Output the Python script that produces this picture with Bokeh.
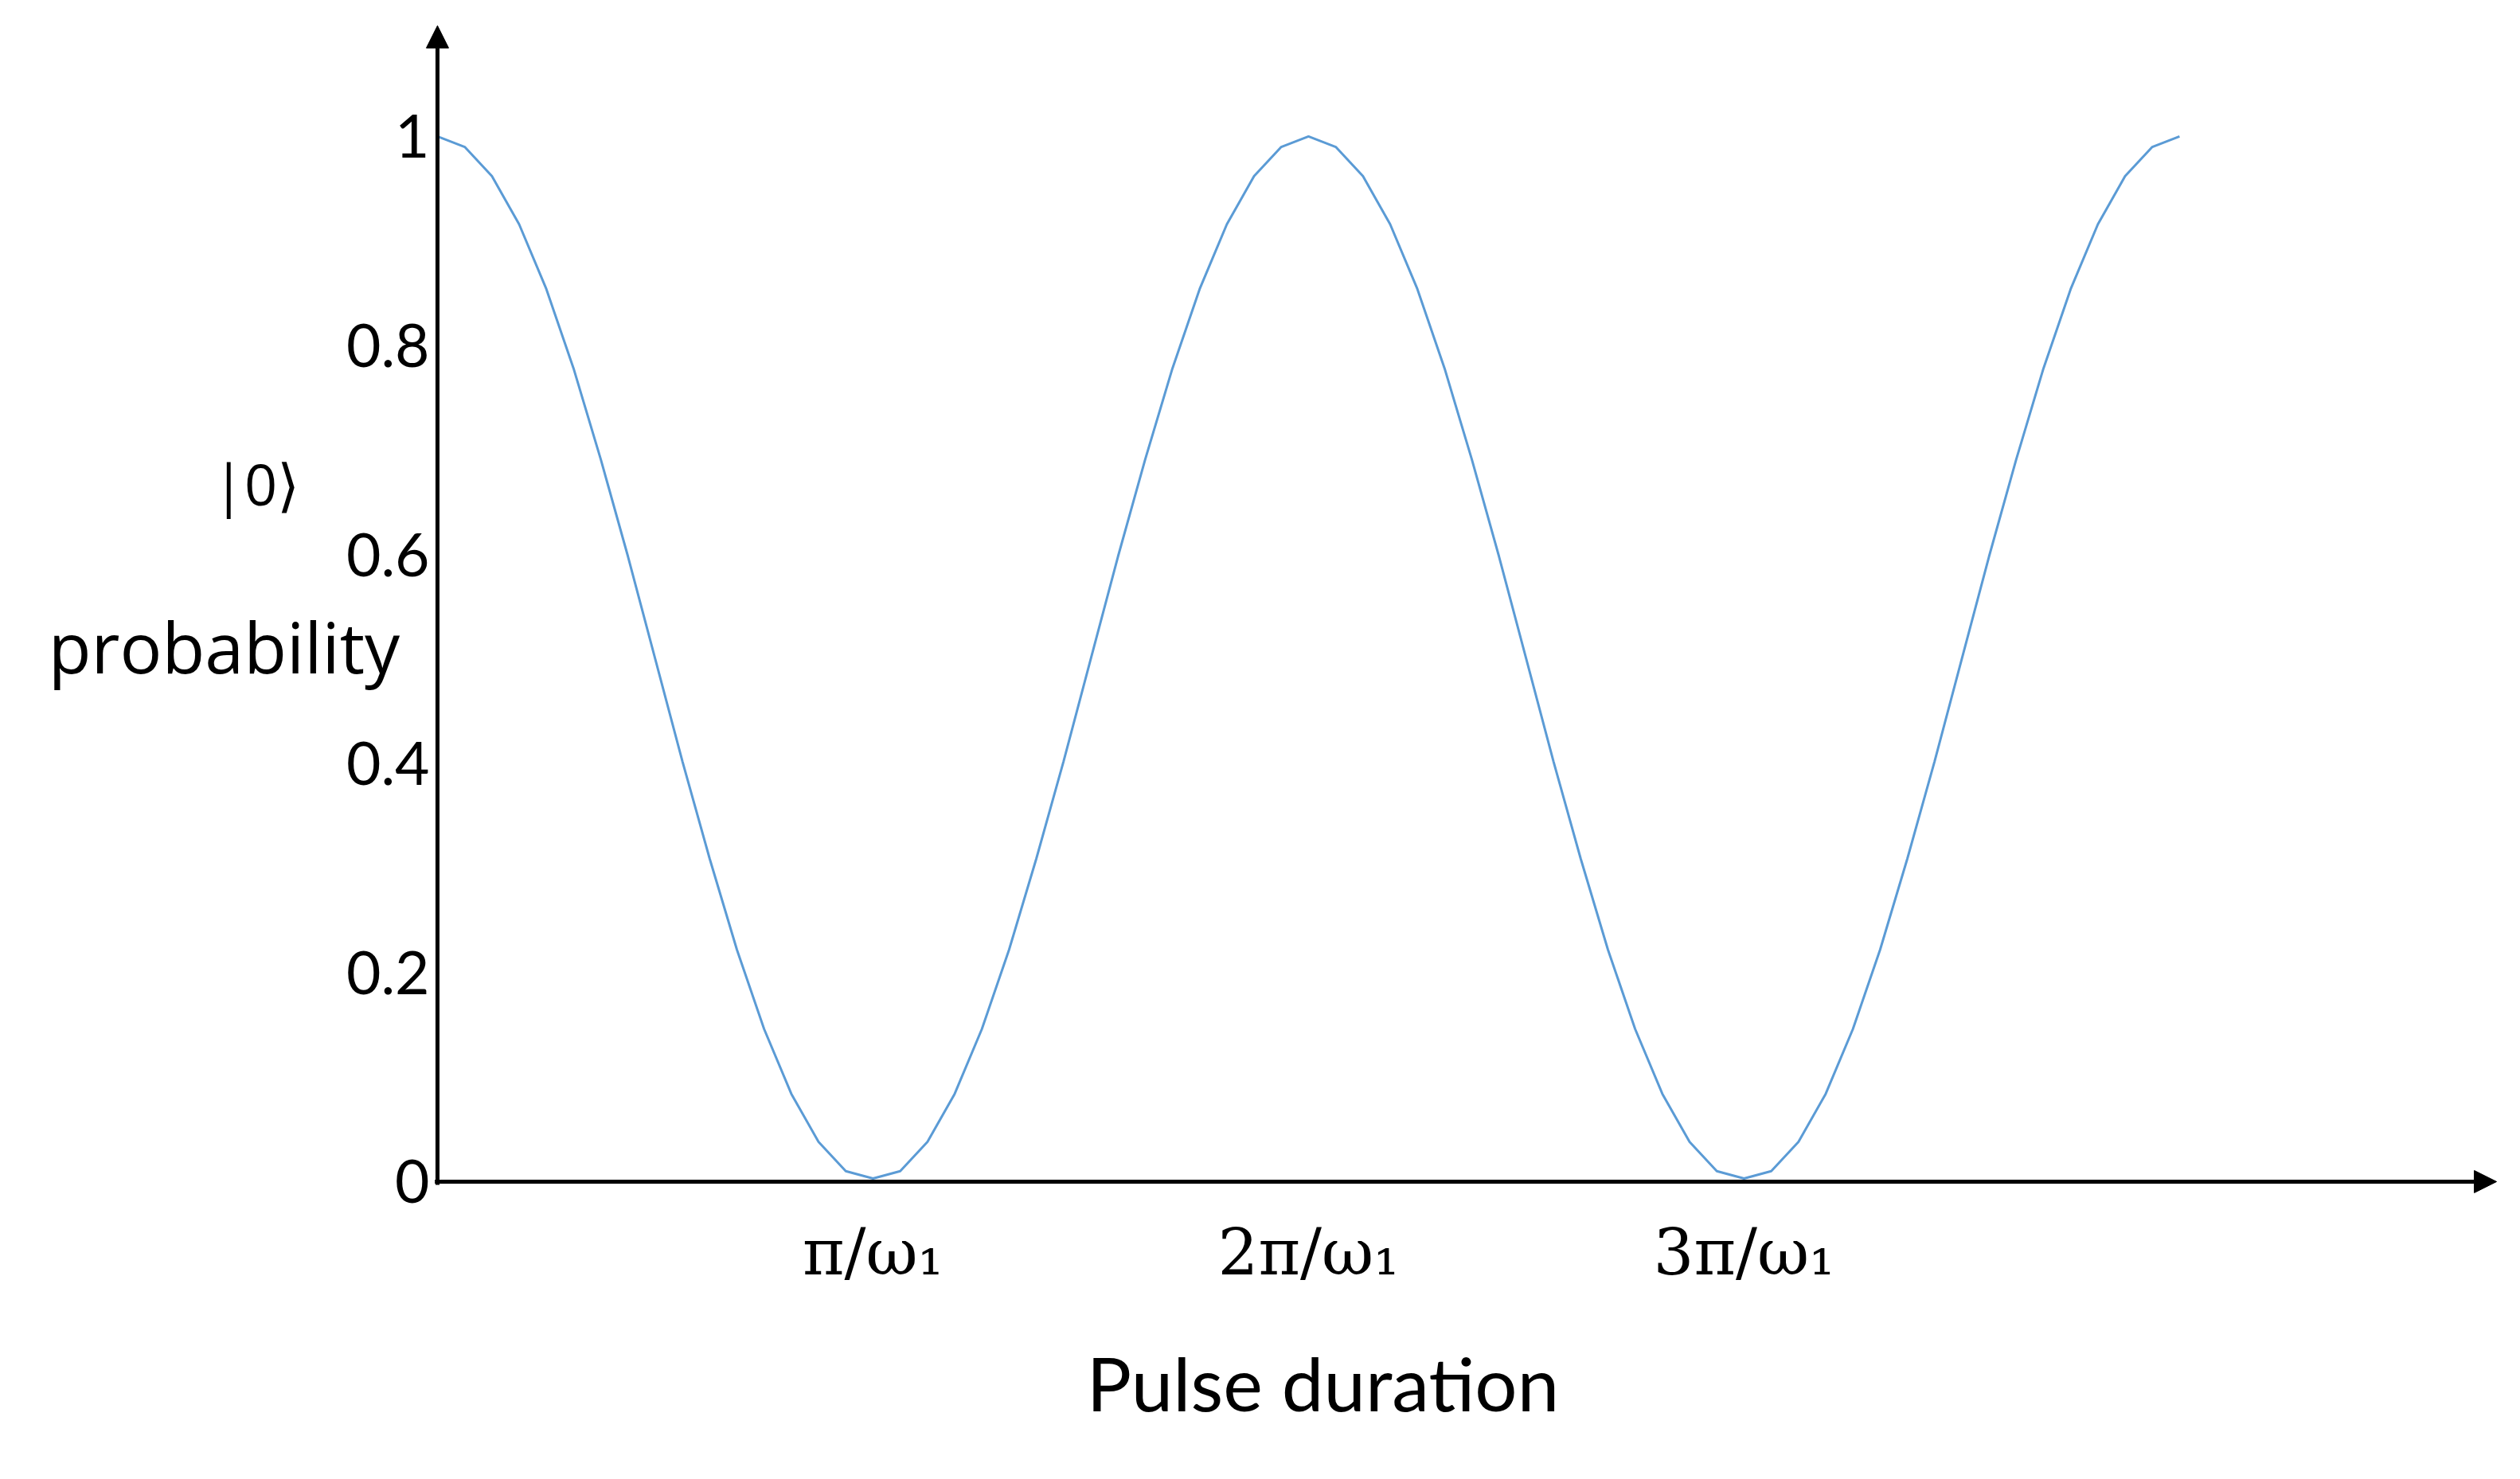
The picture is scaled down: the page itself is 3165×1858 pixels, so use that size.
from bokeh.plotting import figure
from bokeh.models import Arrow, NormalHead, Range1d
from bokeh.core.properties import value
from bokeh.embed import file_html
from bokeh.resources import INLINE

# Pulse duration in units of pi/omega_1
x_pulse = [0.0, 0.0625, 0.125, 0.1875, 0.25, 0.3125, 0.375, 0.4375,
           0.5, 0.5625, 0.625, 0.6875, 0.75, 0.8125, 0.875, 0.9375,
           1.0, 1.0625, 1.125, 1.1875, 1.25, 1.3125, 1.375, 1.4375,
           1.5, 1.5625, 1.625, 1.6875, 1.75, 1.8125, 1.875, 1.9375,
           2.0, 2.0625, 2.125, 2.1875, 2.25, 2.3125, 2.375, 2.4375,
           2.5, 2.5625, 2.625, 2.6875, 2.75, 2.8125, 2.875, 2.9375,
           3.0, 3.0625, 3.125, 3.1875, 3.25, 3.3125, 3.375, 3.4375,
           3.5, 3.5625, 3.625, 3.6875, 3.75, 3.8125, 3.875, 3.9375,
           4.0]

# |0> probability
p_zero = [1.000, 0.990, 0.962, 0.916, 0.854, 0.778, 0.691, 0.598,
          0.500, 0.402, 0.309, 0.222, 0.146, 0.084, 0.038, 0.010,
          0.003, 0.010, 0.038, 0.084, 0.146, 0.222, 0.309, 0.402,
          0.500, 0.598, 0.691, 0.778, 0.854, 0.916, 0.962, 0.990,
          1.000, 0.990, 0.962, 0.916, 0.854, 0.778, 0.691, 0.598,
          0.500, 0.402, 0.309, 0.222, 0.146, 0.084, 0.038, 0.010,
          0.003, 0.010, 0.038, 0.084, 0.146, 0.222, 0.309, 0.402,
          0.500, 0.598, 0.691, 0.778, 0.854, 0.916, 0.962, 0.990,
          1.000]

y_ticks = [0, 0.2, 0.4, 0.6, 0.8, 1]
y_tick_labels = ["0", "0.2", "0.4", "0.6", "0.8", "1"]
x_ticks = [1, 2, 3]
x_tick_labels = ["π/ω₁", "2π/ω₁", "3π/ω₁"]
x_title = "Pulse duration"
y_title_top = "|0⟩"
y_title_bottom = "probability"

# frame covers the whole canvas; data origin sits where the drawn axes cross
p = figure(width=3149, height=1842, output_backend="svg", toolbar_location=None,
           x_range=Range1d(-1.0036, 4.7534), y_range=Range1d(-0.2727, 1.1302),
           x_axis_location=None, y_axis_location=None, min_border=0)
p.outline_line_color = None
p.grid.visible = False
p.background_fill_color = "white"
p.border_fill_color = "white"

p.line(x_pulse, p_zero, line_color="#5B9BD5", line_width=3)

# arrowed axes
p.add_layout(Arrow(end=NormalHead(size=28, fill_color="black", line_color="black", line_width=1),
                   x_start=-0.006, y_start=0, x_end=4.728, y_end=0,
                   line_width=5, line_color="black"))
p.add_layout(Arrow(end=NormalHead(size=28, fill_color="black", line_color="black", line_width=1),
                   x_start=0, y_start=-0.003, x_end=0, y_end=1.106,
                   line_width=5, line_color="black"))

# tick labels
p.text(x=[-0.018] * len(y_ticks), y=y_ticks, text=y_tick_labels,
       text_align="right", text_baseline="middle",
       text_font=value("Lato"), text_font_size="75px", text_color="black")
p.text(x=x_ticks, y=[-0.068] * len(x_ticks), text=x_tick_labels,
       text_align="center", text_baseline="alphabetic",
       text_font=value("DejaVu Serif"), text_font_size="80px", text_color="black")

# axis titles
p.text(x=[2.033], y=[-0.192], text=[x_title], text_align="center",
       text_baseline="alphabetic", text_font=value("Lato"), text_font_size="94px",
       text_color="black")
p.text(x=[-0.49], y=[0.512], text=[y_title_bottom], text_align="center",
       text_baseline="alphabetic", text_font=value("Open Sans"), text_font_size="88px",
       text_color="black")
p.text(x=[-0.416], y=[0.668], text=[y_title_top], text_align="center",
       text_baseline="alphabetic", text_font=value("Open Sans"), text_font_size="72px",
       text_color="black")

open("out.html", "w").write(file_html(p, INLINE))
